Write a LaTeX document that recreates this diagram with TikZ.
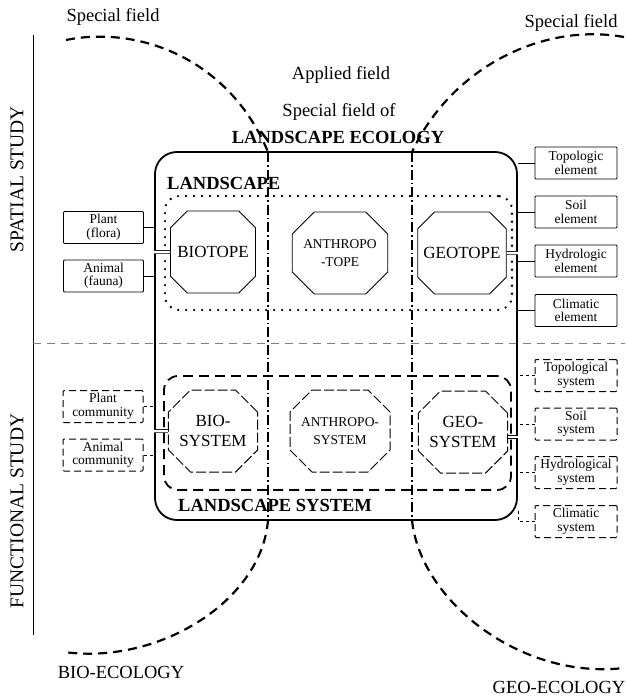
\documentclass[tikz,border=0pt]{standalone}
\usepackage{fontspec}
\setmainfont{Liberation Serif}
\usetikzlibrary{shapes.misc}
\newcommand{\figlarge}{\fontsize{18.5}{20}\selectfont}
\newcommand{\figmid}{\fontsize{17}{20}\selectfont}
\newcommand{\figsmall}{\fontsize{13.5}{13.5}\selectfont}
\newcommand{\figtiny}{\fontsize{13.5}{18}\selectfont}

\begin{document}
\begin{tikzpicture}[x=1pt, y=-1pt,
    every node/.style={inner sep=0pt},
    mainframe/.style={draw, line width=1.8pt, rounded corners=22pt, minimum width=362pt, minimum height=368pt},
    zone/.style={rounded corners=14pt, minimum width=347pt, minimum height=114pt},
    dotzone/.style={zone, draw, line width=2.6pt, line cap=round, dash pattern=on 0pt off 8pt},
    dashzone/.style={zone, draw, line width=1.8pt, dash pattern=on 10pt off 6pt},
    oct/.style={draw, line width=0.9pt, fill=white, chamfered rectangle, chamfered rectangle xsep=11pt,
      chamfered rectangle ysep=11pt, minimum width=85pt, minimum height=82pt, align=center, font=\figmid},
    octsys/.style={oct, line width=1pt, dash pattern=on 10pt off 3pt},
    elem/.style={draw, line width=0.8pt, rounded corners=1pt, minimum width=80pt, minimum height=32pt,
      align=center, font=\figsmall},
    elemsys/.style={elem, line width=1pt, dash pattern=on 7pt off 4pt},
    field/.style={line width=2.2pt, dash pattern=on 9pt off 6pt},
    divide/.style={line width=1.4pt, dash pattern=on 10pt off 3pt on 1.5pt off 3pt},
    link/.style={line width=0.7pt},
    dbl/.style={double, double distance=2.5pt, line width=0.6pt}
  ]
  \useasboundingbox (0,0) rectangle (625,698);

  % study axis
  \coordinate (axtop) at (33,35);
  \coordinate (axbot) at (33,635);
  \coordinate (split) at (33,343);
  \coordinate (splitend) at (625,343);
  \draw[link] (axtop) -- (axbot);
  \draw[link, gray, dash pattern=on 8pt off 6pt] (split) -- (splitend);
  \node[font=\fontsize{19.5}{20}\selectfont, rotate=90] (spatial) at (17,179) {SPATIAL STUDY};
  \node[font=\fontsize{19.5}{20}\selectfont, rotate=90] (functional) at (17,511) {FUNCTIONAL STUDY};

  % fields
  \node[font=\figlarge] (spleft) at (113,17) {Special field};
  \node[font=\figlarge] (spright) at (571,23) {Special field};
  \node[font=\figlarge] (applied) at (341,75) {Applied field};
  \node[font=\figlarge] (spof) at (339,112) {Special field of};
  \node[font=\figlarge\bfseries] (lecol) at (338,137) {LANDSCAPE ECOLOGY};
  \node[font=\figlarge] (bioeco) at (121,672) {BIO-ECOLOGY};
  \node[font=\figlarge] (geoeco) at (559,687) {GEO-ECOLOGY};

  \node[mainframe] (frame) at (336,336) {};
  \node[dotzone] (landscape) at (338.5,253) {};
  \node[dashzone] (lsystem) at (337.5,433) {};
  \node[font=\figlarge\bfseries, anchor=west] (lslabel) at (167,183) {LANDSCAPE};
  \node[font=\figlarge\bfseries, anchor=west] (lsyslabel) at (178,505.5) {LANDSCAPE SYSTEM};

  \draw[field] (66,40) .. controls (140,25) and (230,60) .. (268,152);
  \draw[field] (624,37) .. controls (540,22) and (450,70) .. (412,152);
  \draw[field] (268,520) .. controls (262,600) and (160,665) .. (64,652);
  \draw[field] (412,520) .. controls (420,600) and (520,680) .. (624,668);
  \draw[divide] (268,152) -- (268,520);
  \draw[divide] (412,152) -- (412,520);

  % spatial
  \node[oct] (biotope) at (213,252) {BIOTOPE};
  \node[oct, font=\figtiny] (anthtope) at (340,253) {ANTHROPO\\-TOPE};
  \node[oct] (geotope) at (462,253) {GEOTOPE};
  \node[elem] (plant) at (103.5,227.5) {Plant\\(flora)};
  \node[elem] (animal) at (103.5,276) {Animal\\(fauna)};
  \node[elem, minimum width=82pt] (topo) at (576,163) {Topologic\\element};
  \node[elem, minimum width=82pt] (soil) at (576,212) {Soil\\element};
  \node[elem, minimum width=82pt] (hydro) at (576,261) {Hydrologic\\element};
  \node[elem, minimum width=82pt] (clim) at (576,310.5) {Climatic\\element};
  \foreach \n in {plant, animal} \draw[link] (\n) -- (\n -| frame.west);
  \foreach \n in {topo, soil, hydro, clim} \draw[link] (\n) -- (\n -| frame.east);
  \draw[dbl] (biotope) -- (biotope -| frame.west);
  \draw[dbl] (geotope) -- (geotope -| frame.east);

  % functional
  \node[octsys] (biosys) at (213,431) {BIO-\\SYSTEM};
  \node[octsys, font=\figtiny] (anthsys) at (340,431) {ANTHROPO-\\SYSTEM};
  \node[octsys] (geosys) at (463,432) {GEO-\\SYSTEM};
  \node[elemsys] (plantcom) at (103,406.5) {Plant\\community};
  \node[elemsys] (animalcom) at (103,455) {Animal\\community};
  \node[elemsys, minimum width=82pt] (toposys) at (576,375.5) {Topological\\system};
  \node[elemsys, minimum width=82pt] (soilsys) at (576,424) {Soil\\system};
  \node[elemsys, minimum width=82pt] (hydrosys) at (576,472.5) {Hydrological\\system};
  \node[elemsys, minimum width=82pt] (climsys) at (576,521.5) {Climatic\\system};
  \foreach \n in {plantcom, animalcom} \draw[link, dashed] (\n) -- (\n -| frame.west);
  \foreach \n in {toposys, soilsys, hydrosys} \draw[link, dashed] (\n) -- (\n -| frame.east);
  \draw[link, dashed] (climsys) -| ([yshift=12pt]frame.south east);
  \draw[dbl] (biosys) -- (biosys -| frame.west);
  \coordinate (gsd) at ([yshift=-5pt]geosys.east);
  \draw[dbl] (gsd) -- (gsd -| frame.east);
\end{tikzpicture}
\end{document}
